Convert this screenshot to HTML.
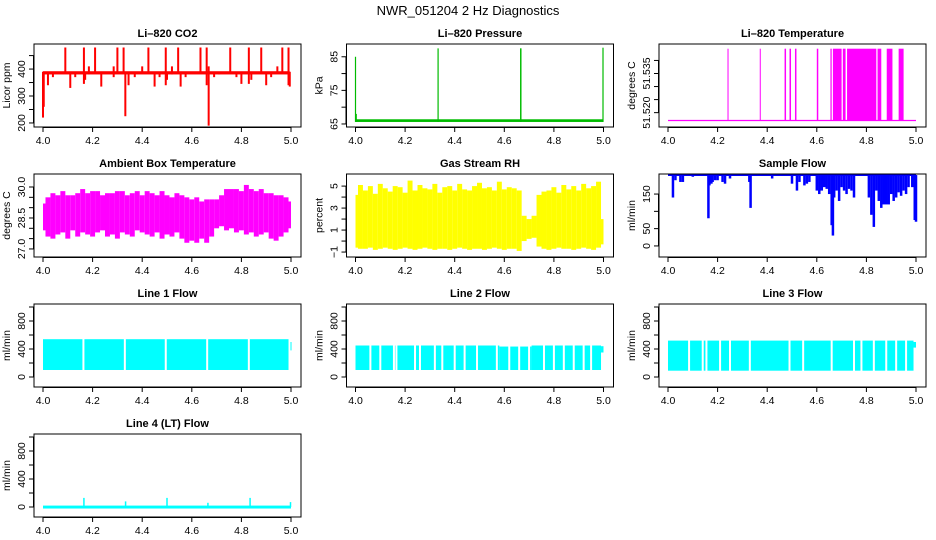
<!DOCTYPE html>
<html><head><meta charset="utf-8"><title>NWR_051204 2 Hz Diagnostics</title>
<style>
html,body{margin:0;padding:0;background:#fff;}
svg{display:block;font-family:"Liberation Sans",Arial,sans-serif;}
</style></head>
<body>
<svg id="chart" width="936" height="540" viewBox="0 0 936 540" xmlns="http://www.w3.org/2000/svg">
<text x="468" y="15" text-anchor="middle" font-size="13">NWR_051204  2 Hz Diagnostics</text>
</svg>
<script>
// ---- data arrays ----
var xTicks = [4.0, 4.2, 4.4, 4.6, 4.8, 5.0];
var xTickLabels = ["4.0", "4.2", "4.4", "4.6", "4.8", "5.0"];

var co2Base = [380, 392];
var co2SpikeX  = [4.0, 4.003, 4.02, 4.04, 4.09, 4.11, 4.13, 4.165, 4.17, 4.185, 4.21, 4.235, 4.255, 4.285, 4.30, 4.325, 4.332, 4.345, 4.37, 4.40, 4.425, 4.45, 4.47, 4.495, 4.50, 4.52, 4.545, 4.555, 4.575, 4.635, 4.66, 4.668, 4.69, 4.71, 4.755, 4.78, 4.80, 4.83, 4.84, 4.88, 4.90, 4.92, 4.945, 4.965, 4.99, 4.995];
var co2SpikeLo = [220, 260, 340, 370, 385, 330, 370, 345, 360, 380, 385, 335, 385, 370, 385, 385, 225, 340, 370, 385, 385, 335, 370, 340, 360, 380, 385, 335, 370, 385, 340, 190, 370, 380, 385, 370, 345, 345, 360, 385, 340, 370, 385, 385, 340, 335];
var co2SpikeHi = [390, 390, 390, 390, 480, 390, 390, 480, 390, 410, 480, 390, 390, 410, 480, 480, 390, 390, 390, 410, 480, 390, 390, 480, 390, 410, 480, 390, 390, 480, 480, 410, 390, 390, 480, 390, 390, 480, 390, 480, 390, 390, 410, 480, 480, 390];

var presBase = [65.6, 66.4];
var presSpikeX  = [4.0, 4.003, 4.333, 4.666, 4.667, 4.998];
var presSpikeHi = [85, 68, 87.5, 87.5, 87.5, 87.7];

var ltBase = 51.517;
var ltTop = 51.5445;
var ltStart = [4.240, 4.370, 4.470, 4.490, 4.512, 4.600, 4.655, 4.665, 4.705, 4.722, 4.845, 4.882, 4.930];
var ltEnd   = [4.241, 4.371, 4.476, 4.496, 4.518, 4.606, 4.660, 4.700, 4.716, 4.840, 4.860, 4.905, 4.950];

var ambLo = [27.9,27.6,27.5,27.7,27.8,27.5,27.9,27.6,27.8,27.7,27.6,27.8,27.9,27.6,27.7,27.5,27.8,27.7,27.6,27.9,27.8,27.7,27.6,27.8,27.5,27.7,27.6,27.8,27.5,27.3,27.4,27.3,27.5,27.3,27.6,28.0,28.1,27.9,28.0,27.8,27.9,27.7,27.8,27.6,27.7,27.8,27.5,27.4,27.6,27.8,28.0];
var ambHi = [29.2,29.5,29.7,29.6,29.8,29.6,29.6,29.7,29.9,29.7,29.8,29.8,29.6,29.7,29.7,29.8,29.8,29.6,29.7,29.8,29.6,29.8,29.7,29.6,29.8,29.6,29.5,29.7,29.6,29.5,29.4,29.5,29.3,29.4,29.4,29.4,29.6,29.9,29.9,29.9,29.8,30.1,29.9,29.8,29.9,29.7,29.7,29.6,29.6,29.5,29.3];

var rhLo = [-0.6,-0.7,-0.7,-0.6,-0.8,-0.7,-0.6,-0.7,-0.8,-0.7,-0.6,-0.7,-0.8,-0.7,-0.6,-0.7,-0.8,-0.7,-0.7,-0.8,-0.7,-0.6,-0.7,-0.8,-0.7,-0.7,-0.8,-0.7,-0.6,-0.7,-0.8,-0.7,-0.7,-0.9,0.0,0.2,0.3,-0.5,-0.7,-0.8,-0.7,-0.6,-0.7,-0.7,-0.8,-0.7,-0.6,-0.7,-0.8,-0.6,-0.3];
var rhHi = [4.2,5.1,4.6,5.0,4.3,5.2,4.8,4.5,5.0,4.9,4.4,5.5,4.6,5.1,4.8,4.7,5.2,4.4,4.9,5.0,4.6,5.2,4.7,4.6,5.0,5.3,4.8,4.9,4.6,5.4,4.7,4.9,4.8,4.6,2.3,2.0,2.3,4.2,4.5,4.6,4.9,4.4,5.1,4.7,5.0,4.6,5.2,4.8,5.0,5.4,2.0];

var sfBase = 205;
var sfX  = [4.02,4.03,4.05,4.06,4.10,4.163,4.167,4.175,4.18,4.19,4.20,4.22,4.23,4.25,4.328,4.333,4.42,4.50,4.52,4.53,4.55,4.56,4.57,4.60,4.61,4.62,4.63,4.64,4.65,4.66,4.665,4.67,4.68,4.69,4.70,4.71,4.72,4.73,4.74,4.75,4.81,4.82,4.83,4.84,4.85,4.86,4.87,4.88,4.89,4.90,4.91,4.92,4.93,4.94,4.95,4.96,4.97,4.985,4.995,5.0];
var sfLo = [140,190,185,185,200,80,175,180,185,190,190,185,180,195,185,110,195,180,160,185,175,180,185,160,150,160,170,165,150,60,30,140,160,130,170,160,150,165,160,140,140,90,55,160,130,110,120,120,120,150,130,140,155,145,160,150,170,170,75,70];

var l1Lo = 100, l1Hi = 540;
var l1Gaps = [4.163, 4.330, 4.495, 4.662, 4.830];
var l2Lo = 100;
var l2HiX = [4.0, 4.58, 4.71];
var l2HiV = [450, 435, 450];
var l2Gaps = [4.06,4.10,4.155,4.165,4.24,4.26,4.32,4.35,4.40,4.44,4.49,4.57,4.62,4.66,4.70,4.76,4.80,4.84,4.88,4.92,4.95];
var l3Lo = 90, l3Hi = 520;
var l3Gaps = [4.085,4.14,4.155,4.21,4.25,4.33,4.49,4.545,4.66,4.75,4.78,4.83,4.88,4.92,4.96];
var l4Base = 0;
var l4SpikeX = [4.165, 4.333, 4.5, 4.665, 4.835, 4.998];
var l4SpikeHi = [130, 80, 130, 60, 130, 70];

// ---- drawing ----
var svg = document.getElementById('chart');
var NS = 'http://www.w3.org/2000/svg';
function mk(tag, attrs, parent) {
  var e = document.createElementNS(NS, tag);
  for (var k in attrs) e.setAttribute(k, attrs[k]);
  (parent || svg).appendChild(e);
  return e;
}
function panel(col, row, cfg) {
  var L = 34 + col * 312.5, T = 44 + row * 130, W = 267, H = 83;
  var g = mk('g', {});
  
  
  var p = {
    L: L, T: T, W: W, H: H, g: g,
    x: function (v) { return L + 9 + (v - 4) * 248; },
    y: function (v) { return T + H - (v - cfg.ylim[0]) / (cfg.ylim[1] - cfg.ylim[0]) * H; }
  };
  var clip = mk('clipPath', { id: 'clip-' + cfg.name }, g);
  mk('rect', { x: L, y: T, width: W, height: H }, clip);
  p.data = mk('g', { 'clip-path': 'url(#clip-' + cfg.name + ')', fill: cfg.color, stroke: 'none' }, g);
  
  
  var box = mk('rect', { x: L, y: T, width: W, height: H, fill: 'none', stroke: '#000', 'stroke-width': 1 }, g);
  
  
  var t = mk('text', { x: L + W / 2, y: T - 7, 'text-anchor': 'middle', 'font-size': 11, 'font-weight': 'bold' }, g);
  t.textContent = cfg.title;
  
  
  var xa = mk('g', { stroke: '#000', 'stroke-width': 1 }, g);
  
  
  mk('line', { x1: p.x(4), x2: p.x(5), y1: T + H + 0.5, y2: T + H + 0.5 }, xa);
  for (var i = 0; i < xTicks.length; i++) {
    mk('line', { x1: p.x(xTicks[i]), x2: p.x(xTicks[i]), y1: T + H, y2: T + H + 5 }, xa);
    var tl = mk('text', { x: p.x(xTicks[i]), y: T + H + 17, 'text-anchor': 'middle', 'font-size': 10.5, stroke: 'none' }, xa);
    tl.textContent = xTickLabels[i];
    
    
  }
  var ya = mk('g', { stroke: '#000', 'stroke-width': 1 }, g);
  
  
  var yt = cfg.yticks;
  mk('line', { x1: L - 0.5, x2: L - 0.5, y1: p.y(yt[0]), y2: p.y(yt[yt.length - 1]) }, ya);
  for (var j = 0; j < yt.length; j++) {
    var yy = p.y(yt[j]);
    mk('line', { x1: L - 5, x2: L, y1: yy, y2: yy }, ya);
  }
  for (var k = 0; k < cfg.ylabels.length; k++) {
    var yl = p.y(cfg.ylabels[k]);
    var lab = mk('text', { x: 0, y: 0, 'text-anchor': 'middle', 'font-size': 10.5, stroke: 'none', transform: 'translate(' + (L - 9) + ',' + yl + ') rotate(-90)' }, ya);
    lab.textContent = cfg.ylabelText[k];
    
    
  }
  var yt2 = mk('text', { x: 0, y: 0, 'text-anchor': 'middle', 'font-size': 10.5, transform: 'translate(' + (L - 24) + ',' + (T + H / 2) + ') rotate(-90)' }, g);
  yt2.textContent = cfg.ytitle;
  
  
  return p;
}
function vbar(p, x, lo, hi, w) {
  var y1 = p.y(hi), y2 = p.y(lo);
  return mk('rect', { x: p.x(x) - w / 2, y: Math.min(y1, y2), width: w, height: Math.max(1, Math.abs(y2 - y1)) }, p.data);
}
function span(p, x0, x1, lo, hi) {
  var y1 = p.y(hi), y2 = p.y(lo);
  return mk('rect', { x: p.x(x0), y: y1, width: Math.max(1, p.x(x1) - p.x(x0)), height: y2 - y1 }, p.data);
}
function gaps(p, list, lo, hi) {
  for (var i = 0; i < list.length; i++) {
    var r = mk('rect', { x: p.x(list[i]) - 1, y: p.y(hi) - 1, width: 2, height: p.y(lo) - p.y(hi) + 2, fill: '#fff' }, p.data);
    
    
  }
}
function bands(p, lo, hi) {
  var n = lo.length, bw = 1 / (n - 1);
  for (var i = 0; i < n; i++) {
    var x0 = Math.max(4, 4 + (i - 0.5) * bw), x1 = Math.min(5, 4 + (i + 0.5) * bw);
    var r = span(p, x0, x1, lo[i], hi[i]);
    
    
  }
}

var p1 = panel(0, 0, { name: 'co2-panel', title: 'Li\u2013820 CO2', color: '#ff0000', ylim: [185, 493], yticks: [200, 250, 300, 350, 400, 450], ylabels: [200, 300, 400], ylabelText: ['200', '300', '400'], ytitle: 'Licor ppm' });
span(p1, 4.0, 4.995, co2Base[0], co2Base[1]);
for (var i = 0; i < co2SpikeX.length; i++) {
  var r = vbar(p1, co2SpikeX[i], co2SpikeLo[i], co2SpikeHi[i], 2);
  
  
}

var p2 = panel(1, 0, { name: 'pressure-panel', title: 'Li\u2013820 Pressure', color: '#00bb00', ylim: [64.1, 88.8], yticks: [65, 70, 75, 80, 85], ylabels: [65, 75, 85], ylabelText: ['65', '75', '85'], ytitle: 'kPa' });
span(p2, 4.0, 4.998, presBase[0], presBase[1]);
for (var i = 0; i < presSpikeX.length; i++) {
  var r = vbar(p2, presSpikeX[i], presBase[0], presSpikeHi[i], 1.2);
  
  
}

var p3 = panel(2, 0, { name: 'li820-temperature-panel', title: 'Li\u2013820 Temperature', color: '#ff00ff', ylim: [51.5145, 51.5463], yticks: [51.520, 51.525, 51.530, 51.535, 51.540], ylabels: [51.520, 51.535], ylabelText: ['51.520', '51.535'], ytitle: 'degrees C' });
var tb = mk('line', { x1: p3.x(4), x2: p3.x(5), y1: p3.y(ltBase), y2: p3.y(ltBase), stroke: '#ff00ff', 'stroke-width': 1.2 }, p3.data);


for (var i = 0; i < ltStart.length; i++) {
  var r = span(p3, ltStart[i], ltEnd[i], ltBase, ltTop);
  
  
}

var p4 = panel(0, 1, { name: 'ambient-temperature-panel', title: 'Ambient Box Temperature', color: '#ff00ff', ylim: [26.61, 30.63], yticks: [27.0, 27.5, 28.0, 28.5, 29.0, 29.5, 30.0], ylabels: [27.0, 28.5, 30.0], ylabelText: ['27.0', '28.5', '30.0'], ytitle: 'degrees C' });
bands(p4, ambLo, ambHi);

var p5 = panel(1, 1, { name: 'gas-stream-rh-panel', title: 'Gas Stream RH', color: '#ffff00', ylim: [-1.45, 6.1], yticks: [-1, 0, 1, 2, 3, 4, 5], ylabels: [-1, 1, 3, 5], ylabelText: ['\u22121', '1', '3', '5'], ytitle: 'percent' });
bands(p5, rhLo, rhHi);

var p6 = panel(2, 1, { name: 'sample-flow-panel', title: 'Sample Flow', color: '#0000ff', ylim: [-32, 208], yticks: [0, 50, 100, 150], ylabels: [0, 50, 150], ylabelText: ['0', '50', '150'], ytitle: 'ml/min' });
var sb = mk('line', { x1: p6.x(4), x2: p6.x(5), y1: p6.y(sfBase), y2: p6.y(sfBase), stroke: '#0000ff', 'stroke-width': 2 }, p6.data);


for (var i = 0; i < sfX.length; i++) {
  var r = vbar(p6, sfX[i], sfLo[i], sfBase, 2.5);
  
  
}

var flowCfg = { ylim: [-143, 1043], yticks: [0, 200, 400, 600, 800, 1000], ylabels: [0, 400, 800], ylabelText: ['0', '400', '800'], ytitle: 'ml/min', color: '#00ffff' };
function flowPanel(c, r, name, title) {
  var o = {}; for (var k in flowCfg) o[k] = flowCfg[k];
  o.name = name; o.title = title;
  return panel(c, r, o);
}
var p7 = flowPanel(0, 2, 'line1-flow-panel', 'Line 1 Flow');
span(p7, 4.0, 4.99, l1Lo, l1Hi);
span(p7, 4.998, 5.0, 380, 500);
gaps(p7, l1Gaps, l1Lo, l1Hi);
var p8 = flowPanel(1, 2, 'line2-flow-panel', 'Line 2 Flow');
for (var i = 0; i < l2HiX.length; i++) {
  var xe = i + 1 < l2HiX.length ? l2HiX[i + 1] : 4.99;
  span(p8, l2HiX[i], xe, l2Lo, l2HiV[i]);
}
span(p8, 4.99, 5.0, 350, 440);
gaps(p8, l2Gaps, l2Lo, 460);
var p9 = flowPanel(2, 2, 'line3-flow-panel', 'Line 3 Flow');
span(p9, 4.0, 4.99, l3Lo, l3Hi);
span(p9, 4.99, 5.0, 420, 500);
gaps(p9, l3Gaps, l3Lo, l3Hi);
var p10 = flowPanel(0, 3, 'line4-flow-panel', 'Line 4 (LT) Flow');
span(p10, 4.0, 5.0, l4Base - 22, l4Base + 20);
for (var i = 0; i < l4SpikeX.length; i++) {
  var r = vbar(p10, l4SpikeX[i], l4Base, l4SpikeHi[i], 1.5);
  
  
}
</script>
</body></html>
